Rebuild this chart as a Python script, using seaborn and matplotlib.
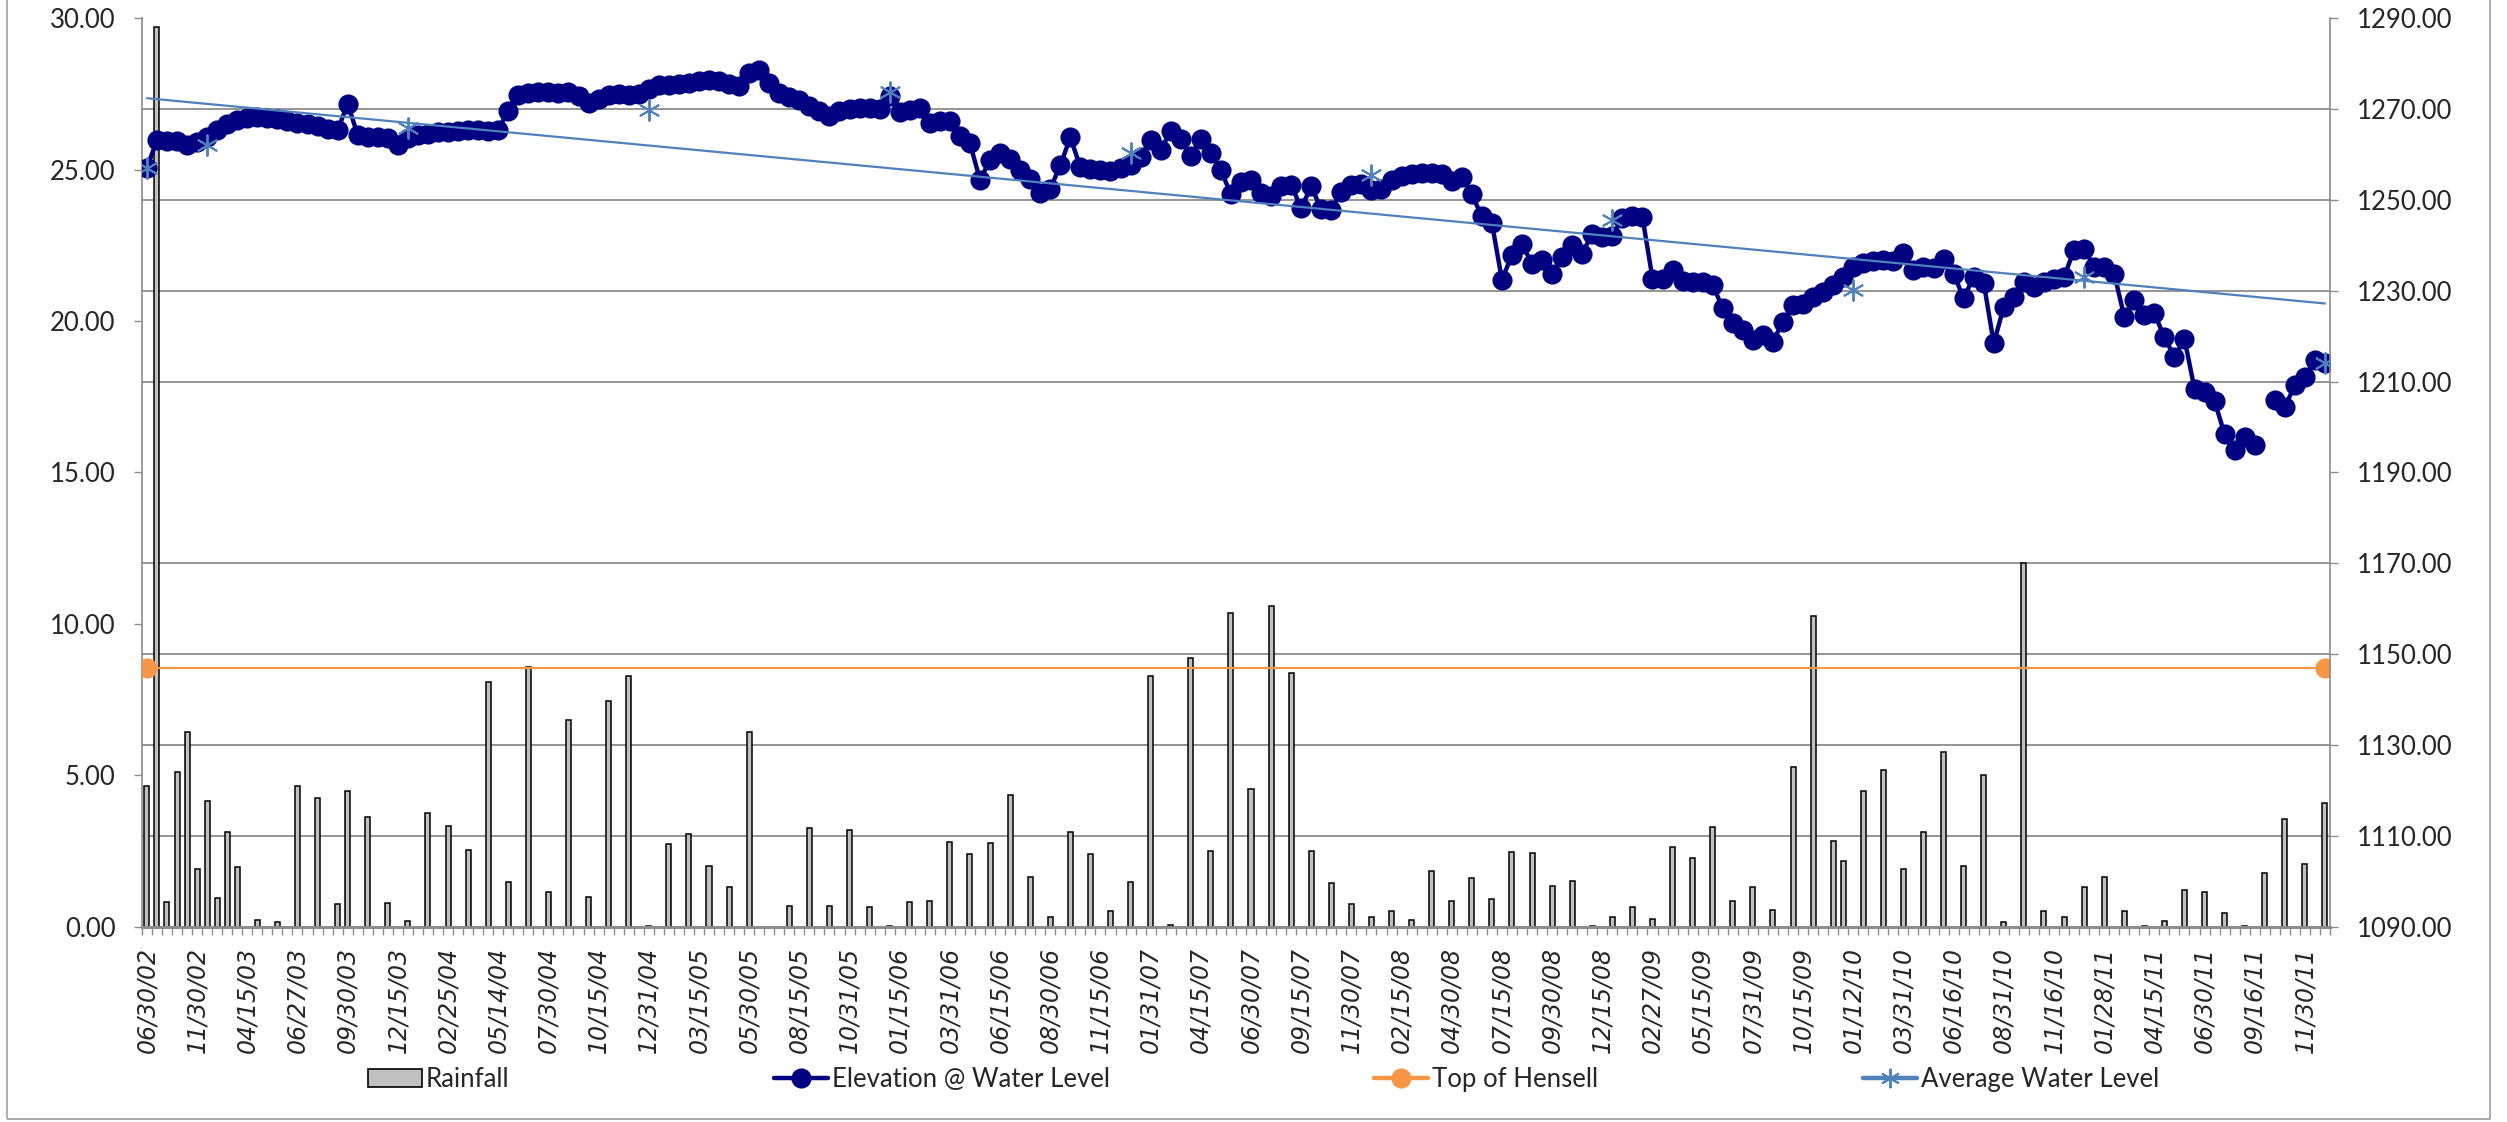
import numpy as np
import pandas as pd
import matplotlib
matplotlib.use('Agg')
import matplotlib.pyplot as plt
from matplotlib.lines import Line2D
from matplotlib.patches import Patch, Rectangle
import seaborn as sns

# Etiquetas del eje x (una cada 5 categorías)
date_labels = ['06/30/02', '11/30/02', '04/15/03', '06/27/03', '09/30/03', '12/15/03',
               '02/25/04', '05/14/04', '07/30/04', '10/15/04', '12/31/04', '03/15/05',
               '05/30/05', '08/15/05', '10/31/05', '01/15/06', '03/31/06', '06/15/06',
               '08/30/06', '11/15/06', '01/31/07', '04/15/07', '06/30/07', '09/15/07',
               '11/30/07', '02/15/08', '04/30/08', '07/15/08', '09/30/08', '12/15/08',
               '02/27/09', '05/15/09', '07/31/09', '10/15/09', '01/12/10', '03/31/10',
               '06/16/10', '08/31/10', '11/16/10', '01/28/11', '04/15/11', '06/30/11',
               '09/16/11', '11/30/11']
n_cat = 218
label_step = 5

# Lluvia: categoría y valor
rain_idx = [0, 1, 2, 3, 4, 5, 6, 7, 8, 9, 11, 13, 15, 17, 19, 20, 22, 24, 26, 28,
            30, 32, 34, 36, 38, 40, 42, 44, 46, 48, 50, 52, 54, 56, 58, 60, 64, 66, 68, 70,
            72, 74, 76, 78, 80, 82, 84, 86, 88, 90, 92, 94, 96, 98, 100, 102, 104, 106, 108, 110,
            112, 114, 116, 118, 120, 122, 124, 126, 128, 130, 132, 134, 136, 138, 140, 142, 144, 146, 148, 150,
            152, 154, 156, 158, 160, 162, 164, 166, 168, 169, 171, 173, 175, 177, 179, 181, 183, 185, 187, 189,
            191, 193, 195, 197, 199, 201, 203, 205, 207, 209, 211, 213, 215, 217]
rain_vals = [4.63, 29.7, 0.80, 5.12, 6.42, 1.90, 4.14, 0.94, 3.12, 1.98, 0.23, 0.15, 4.63, 4.24, 0.75, 4.49, 3.61, 0.78, 0.17, 3.75,
             3.31, 2.53, 8.07, 1.46, 8.57, 1.13, 6.81, 0.96, 7.44, 8.27, 0.02, 2.73, 3.06, 2.01, 1.32, 6.44, 0.67, 3.26, 0.69, 3.19,
             0.64, 0.02, 0.80, 0.84, 2.78, 2.39, 2.75, 4.33, 1.63, 0.33, 3.12, 2.40, 0.53, 1.46, 8.28, 0.05, 8.86, 2.51, 10.36, 4.54,
             10.58, 8.39, 2.51, 1.45, 0.74, 0.33, 0.51, 0.22, 1.83, 0.85, 1.60, 0.90, 2.46, 2.44, 1.33, 1.52, 0.03, 0.31, 0.66, 0.24,
             2.63, 2.27, 3.28, 0.86, 1.31, 0.55, 5.26, 10.27, 2.82, 2.16, 4.47, 5.16, 1.89, 3.12, 5.76, 2.01, 4.99, 0.15, 12.01, 0.50,
             0.31, 1.29, 1.65, 0.53, 0.02, 0.17, 1.22, 1.15, 0.45, 0.03, 1.77, 3.56, 2.07, 4.07]

# Elevación del nivel de agua (None = sin dato)
elevation = [
    1257.0, 1263.2, 1263.0, 1263.0, 1262.2, 1262.8, 1263.8, 1265.3, 1266.8, 1267.5,
    1268.0, 1268.2, 1268.0, 1267.8, 1267.4, 1267.0, 1266.7, 1266.3, 1265.6, 1265.3,
    1271.2, 1264.3, 1263.9, 1263.8, 1263.6, 1262.1, 1263.6, 1264.2, 1264.6, 1264.9,
    1265.0, 1265.2, 1265.3, 1265.3, 1265.2, 1265.5, 1269.6, 1273.1, 1273.6, 1273.8,
    1273.7, 1273.6, 1273.8, 1272.9, 1271.4, 1272.3, 1273.0, 1273.4, 1273.2, 1273.3,
    1274.5, 1275.2, 1275.4, 1275.5, 1275.8, 1276.2, 1276.4, 1276.3, 1275.5, 1275.0,
    1278.0, 1278.7, 1275.8, 1273.6, 1272.6, 1272.1, 1270.6, 1269.6, 1268.4, 1269.5,
    1270.0, 1270.3, 1270.2, 1270.1, 1272.8, 1269.3, 1269.8, 1270.2, 1267.0, 1267.3,
    1267.3, 1264.0, 1262.5, 1254.4, 1258.8, 1260.4, 1259.0, 1256.7, 1254.6, 1251.6,
    1252.5, 1257.6, 1263.8, 1257.2, 1256.8, 1256.5, 1256.3, 1257.1, 1257.8, 1259.4,
    1263.2, 1261.0, 1265.1, 1263.5, 1259.6, 1263.5, 1260.3, 1256.6, 1251.2, 1254.0,
    1254.3, 1251.6, 1250.8, 1253.1, 1253.3, 1248.2, 1253.0, 1247.9, 1247.8, 1251.8,
    1253.2, 1253.6, 1252.2, 1252.4, 1254.4, 1255.2, 1255.8, 1256.0, 1256.0, 1255.8,
    1254.1, 1255.1, 1251.2, 1246.4, 1244.9, 1232.4, 1237.9, 1240.4, 1235.8, 1236.8,
    1233.6, 1237.5, 1240.1, 1238.2, 1242.6, 1241.8, 1242.0, 1246.0, 1246.4, 1246.2,
    1232.7, 1232.7, 1234.6, 1232.2, 1232.0, 1232.0, 1231.3, 1226.1, 1222.8, 1221.3,
    1219.1, 1220.2, 1218.8, 1223.2, 1226.9, 1227.0, 1228.7, 1229.8, 1231.3, 1233.1,
    1235.3, 1236.1, 1236.5, 1236.8, 1236.6, 1238.4, 1234.6, 1235.2, 1235.0, 1237.1,
    1233.8, 1228.3, 1233.1, 1231.8, 1218.4, 1226.5, 1228.7, 1232.0, 1230.9, 1232.0,
    1232.5, 1233.0, 1239.0, 1239.3, 1235.3, 1235.3, 1233.8, 1224.3, 1228.0, 1224.6,
    1225.0, 1219.8, 1215.4, 1219.4, 1208.4, 1207.7, 1205.7, 1198.4, 1194.9, 1197.8,
    1196.0, None, 1205.9, 1204.4, 1209.2, 1211.0, 1214.7, 1214.1]

# Nivel promedio (marcadores) y su línea de tendencia
avg_idx = [0, 6, 26, 50, 74, 98, 122, 146, 170, 193, 217]
avg_vals = [1257.0, 1262.1, 1265.8, 1269.8, 1273.8, 1260.3, 1255.5, 1245.6, 1230.2, 1233.1, 1214.2]
trend_idx = [0, 217]
trend_vals = [1272.4, 1227.2]

# Tope de Hensell
hensell_idx = [0, 217]
hensell_vals = [1147.0, 1147.0]

NAVY = '#000080'
ORANGE = '#f79646'
BLUE = '#4f81bd'
GRID = '#8c8c8c'
STAR = (6, 2, 0)
TXT = ['Lato', 'DejaVu Sans']

sns.set_theme(style='white')
plt.rcParams['font.family'] = TXT

fig = plt.figure(figsize=(25.07, 11.22), dpi=100)
ax = fig.add_axes([0.0566, 0.1742, 0.8728, 0.8095])

df_rain = pd.DataFrame({'cat': rain_idx, 'rain': rain_vals})
sns.barplot(data=df_rain, x='cat', y='rain', native_scale=True, width=0.5,
            color='#c0c0c0', saturation=1, edgecolor='black', linewidth=1.1,
            errorbar=None, ax=ax)

ax.set_xlim(-0.5, n_cat - 0.5)
ax.set_ylim(0, 30)
ax.set_yticks(np.arange(0, 31, 5))
ax.set_yticklabels([f'{v:.2f}' for v in np.arange(0, 31, 5)])
ax.set_yticks(np.arange(0, 31, 3), minor=True)
ax.yaxis.grid(True, which='minor', color=GRID, lw=1.3)
ax.yaxis.grid(False, which='major')
ax.set_axisbelow(True)
ax.set_xlabel('')
ax.set_ylabel('')

ax.set_xticks(np.arange(0, n_cat, label_step))
ax.set_xticklabels(date_labels, rotation=90, family='DejaVu Sans', style='oblique', fontsize=17)
ax.set_xticks(np.arange(-0.5, n_cat, 1), minor=True)
ax.tick_params(axis='x', which='major', length=0, pad=15)
ax.tick_params(axis='x', which='minor', length=5.5, width=1, color=GRID, direction='out', bottom=True)
ax.tick_params(axis='y', which='major', length=6, width=1, color=GRID, direction='out',
               labelsize=18.5, pad=13, left=True)
ax.tick_params(axis='y', which='minor', length=0)

for side in ['top', 'right']:
    ax.spines[side].set_visible(False)
ax.spines['left'].set_color(GRID)
ax.spines['left'].set_linewidth(1.2)
ax.spines['bottom'].set_color(GRID)
ax.spines['bottom'].set_linewidth(2.2)

# Eje secundario: elevaciones
ax2 = ax.twinx()
df_elev = pd.DataFrame({'cat': np.arange(n_cat), 'elev': pd.to_numeric(pd.Series(elevation), errors='coerce')})
df_elev['seg'] = df_elev['elev'].isna().cumsum()
df_elev = df_elev.dropna()
sns.lineplot(data=df_elev, x='cat', y='elev', units='seg', estimator=None, color=NAVY,
             lw=3.2, marker='o', markersize=13.5, markeredgecolor=NAVY, markeredgewidth=1,
             sort=False, ax=ax2)
sns.lineplot(x=hensell_idx, y=hensell_vals, color=ORANGE, lw=1.6, marker='o',
             markersize=13.5, markeredgecolor=ORANGE, markeredgewidth=1, ax=ax2)
sns.lineplot(x=trend_idx, y=trend_vals, color=BLUE, lw=1.6, ax=ax2)
sns.scatterplot(x=avg_idx, y=avg_vals, marker=STAR, s=220, color=BLUE, linewidth=1.4, ax=ax2, zorder=5)

ax2.set_xlim(-0.5, n_cat - 0.5)
ax2.set_ylim(1090, 1290)
ax2.set_yticks(np.arange(1090, 1291, 20))
ax2.set_yticklabels([f'{v:.2f}' for v in np.arange(1090, 1291, 20)])
ax2.tick_params(axis='y', length=6, width=1, color=GRID, direction='out', labelsize=18.5, pad=13, right=True)
ax2.set_xlabel('')
ax2.set_ylabel('')
ax2.grid(False)
for side in ['top', 'left', 'bottom']:
    ax2.spines[side].set_visible(False)
ax2.spines['right'].set_color(GRID)
ax2.spines['right'].set_linewidth(1.2)

# Leyenda
handles = [
    Patch(facecolor='#c0c0c0', edgecolor='black', lw=1.2, label='Rainfall'),
    Line2D([], [], color=NAVY, lw=3.2, marker='o', ms=13.5, label='Elevation @ Water Level'),
    Line2D([], [], color=ORANGE, lw=3.2, marker='o', ms=13.5, label='Top of Hensell'),
    Line2D([], [], color=BLUE, lw=3.2, marker=STAR, ms=14, mew=1.4, label='Average Water Level'),
]
fig.legend(handles=handles, loc='center', bbox_to_anchor=(0.504, 0.0383), ncol=4, frameon=False,
           fontsize=18.5, handlelength=2.1, handletextpad=0.15, columnspacing=10.3)

# Marco exterior del gráfico
fig.add_artist(Rectangle((0.0026, 0.003), 0.9906, 1.2, transform=fig.transFigure,
                         fill=False, edgecolor='#a6a6a6', lw=1.3))

fig.savefig('out.png', dpi=100)
